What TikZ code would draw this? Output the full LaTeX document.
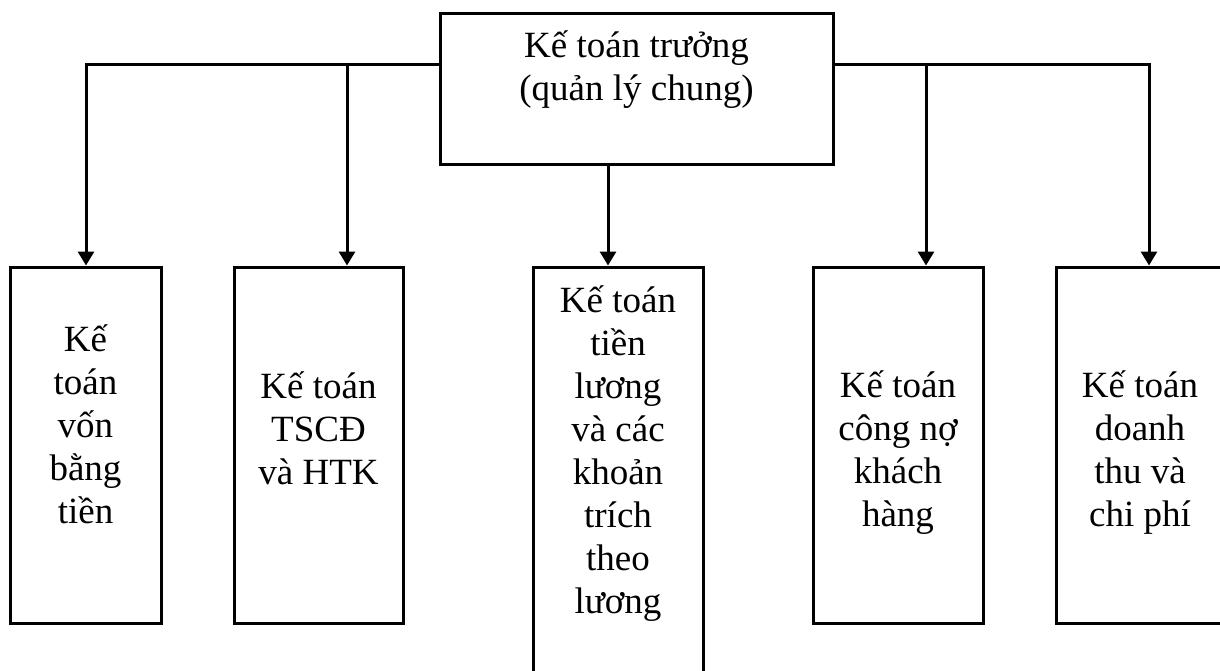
\documentclass[tikz,border=0pt]{standalone}
\usepackage{fontspec}
\setmainfont{Liberation Serif}
\usetikzlibrary{arrows.meta}
\tikzset{
    box/.style={draw, line width=3pt, inner sep=0pt}, % the frames
    txt/.style={align=center, inner sep=0pt, font=\fontsize{37pt}{43pt}\selectfont}, % text in the frames
}
\tikzstyle{arrow} = [line width=3pt, -{Triangle[width=16pt,length=14pt]}]

\begin{document}
\begin{tikzpicture}[x=1pt, y=-1pt]
    \useasboundingbox (0,0) rectangle (1220,670);
    \clip (0,0) rectangle (1220,670);

    \node[box, minimum width=393pt, minimum height=151pt] (kt0) at (636.5,88.5) {};
    \node[box, minimum width=151pt, minimum height=356pt] (kt1) at (85.5,445) {};
    \node[box, minimum width=169pt, minimum height=356pt] (kt2) at (318.5,445) {};
    \node[box, minimum width=170pt, minimum height=433pt] (kt3) at (618,483.5) {};
    \node[box, minimum width=170pt, minimum height=356pt] (kt4) at (898,445) {};
    \node[box, minimum width=170pt, minimum height=356pt] (kt5) at (1141,445) {};

    \node[txt] (t0) at (636.5,70) {Kế toán trưởng\\(quản lý chung)};
    \node[txt] (t1) at (85.5,424) {Kế\\toán\\vốn\\bằng\\tiền};
    \node[txt] (t2) at (318.5,428) {Kế toán\\TSCĐ\\và HTK};
    \node[txt] (t3) at (618,454) {Kế toán\\tiền\\lương\\và các\\khoản\\trích\\theo\\lương};
    \node[txt] (t4) at (898,453) {Kế toán\\công nợ\\khách\\hàng};
    \node[txt] (t5) at (1140,453) {Kế toán\\doanh\\thu và\\chi phí};

    \coordinate (j1) at (86,64);
    \coordinate (j2) at (347,64);
    \coordinate (j3) at (608,64);
    \coordinate (j4) at (926,64);
    \coordinate (j5) at (1149,64);

    \draw[arrow] (kt0.west |- j1) -- (j1) -- (j1 |- kt1.north);
    \draw[arrow] (j2) -- (j2 |- kt2.north);
    \draw[arrow] (kt0.south -| j3) -- (j3 |- kt3.north);
    \draw[arrow] (kt0.east |- j5) -- (j5) -- (j5 |- kt5.north);
    \draw[arrow] (j4) -- (j4 |- kt4.north);

\end{tikzpicture}
\end{document}
